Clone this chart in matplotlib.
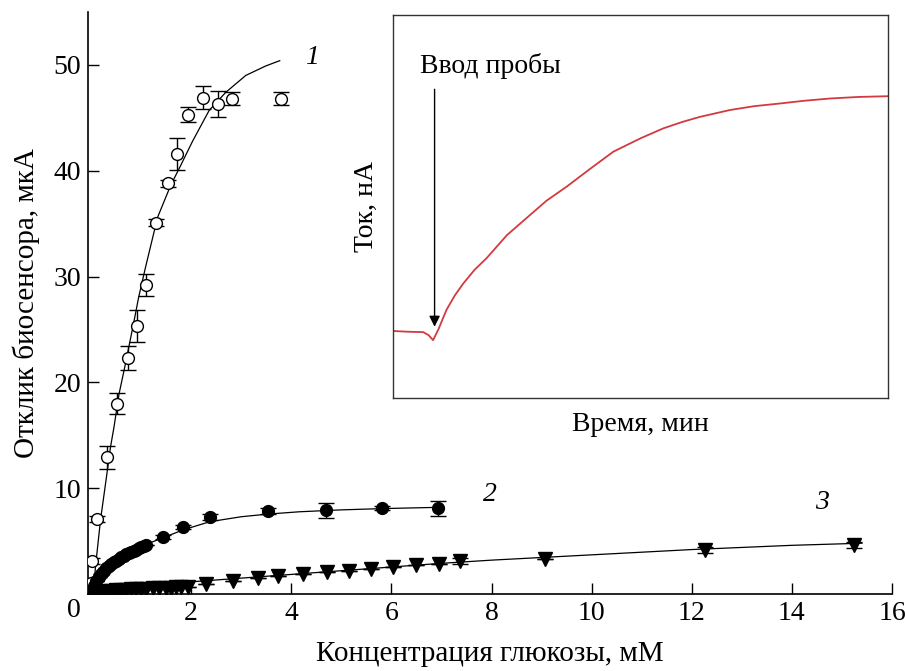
import numpy as np
import matplotlib
matplotlib.use('Agg')
import matplotlib.pyplot as plt

plt.rcParams['font.family'] = ['Liberation Serif', 'DejaVu Serif']

# Curve 1 (open circles) - measured points with error bars
c1_x = [0.0, 0.02, 0.11, 0.31, 0.51, 0.73, 0.91, 1.09, 1.29, 1.53, 1.71, 1.93, 2.23, 2.53, 2.81, 3.79]
c1_y = [1.0, 3.1, 7.1, 12.9, 18.0, 22.3, 25.3, 29.2, 35.1, 38.8, 41.6, 45.3, 46.9, 46.3, 46.8, 46.8]
c1_err = [0.3, 0.3, 0.3, 1.05, 1.0, 1.1, 1.5, 1.0, 0.3, 0.3, 1.5, 0.7, 1.1, 1.2, 0.6, 0.6]
# fitted curve 1
fit1_x = [0.05, 0.09, 0.19, 0.31, 0.39, 0.46, 0.56, 0.69, 0.86, 0.95, 1.09, 1.33, 1.59, 1.76,
          2.03, 2.36, 2.69, 3.09, 3.49, 3.77]
fit1_y = [0.5, 2.6, 7.0, 11.1, 13.9, 15.8, 18.9, 21.8, 25.8, 28.0, 30.9, 35.6, 38.6, 40.2,
          42.8, 45.7, 47.4, 49.0, 49.9, 50.4]

# Curve 2 (filled circles)
c2_x = [0.05, 0.1, 0.15, 0.2, 0.25, 0.3, 0.35, 0.4, 0.45, 0.5, 0.55, 0.6, 0.65, 0.7, 0.75,
        0.8, 0.85, 0.9, 0.95, 1.0, 1.05, 1.1, 1.43, 1.83, 2.37, 3.53, 4.69, 5.81, 6.93]
c2_y = [0.8, 1.2, 1.6, 1.9, 2.2, 2.45, 2.6, 2.85, 3.0, 3.15, 3.3, 3.45, 3.6, 3.75, 3.85,
        3.95, 4.05, 4.2, 4.3, 4.45, 4.55, 4.65, 5.4, 6.35, 7.3, 7.87, 7.9, 8.1, 8.1]
c2_err = [0] * 22 + [0.2, 0.2, 0.3, 0.3, 0.7, 0.2, 0.7]
fit2_x = [0.02, 0.1, 0.2, 0.35, 0.5, 0.7, 1.0, 1.43, 1.83, 2.37, 3.0, 3.53, 4.16, 5.0, 5.81, 6.56, 7.05]
fit2_y = [0.8, 1.3, 1.8, 2.6, 3.1, 3.75, 4.5, 5.3, 6.04, 6.83, 7.3, 7.55, 7.77, 7.95, 8.07, 8.15, 8.2]

# Curve 3 (filled triangles)
c3_x = [0.02, 0.05, 0.1, 0.15, 0.2, 0.3, 0.4, 0.5, 0.6, 0.7, 0.8, 0.9, 1.0, 1.1, 1.23, 1.35,
        1.49, 1.6, 1.69, 1.8, 1.93, 2.29, 2.83, 3.33, 3.73, 4.23, 4.71, 5.16, 5.59, 6.04,
        6.49, 6.95, 7.37, 9.06, 12.26, 15.24]
c3_y = [0.0, 0.05, 0.1, 0.15, 0.2, 0.25, 0.3, 0.35, 0.4, 0.4, 0.45, 0.45, 0.5, 0.5, 0.55, 0.55,
        0.6, 0.6, 0.65, 0.65, 0.7, 0.9, 1.2, 1.5, 1.7, 1.85, 2.05, 2.2, 2.35, 2.55,
        2.75, 2.85, 3.1, 3.35, 4.15, 4.65]
c3_err = [0] * 32 + [0.3, 0, 0.3, 0.3]
fit3_x = [0.02, 0.1, 0.2, 0.4, 0.7, 1.0, 1.5, 2.0, 3, 4, 5, 6, 7, 8, 9, 10, 11, 12, 13, 14, 15.4]
fit3_y = [0.0, 0.35, 0.55, 0.7, 0.8, 0.9, 1.0, 1.15, 1.5, 1.85, 2.2, 2.55, 2.9, 3.2, 3.45,
          3.7, 3.95, 4.2, 4.4, 4.6, 4.8]

# Inset: current trace vs time (arbitrary units)
trace_t = [0.0, 0.3, 0.61, 0.72, 0.81, 0.92, 1.08, 1.25, 1.42, 1.65, 1.89, 2.3, 2.77, 3.1,
           3.51, 4.0, 4.45, 5.0, 5.46, 5.85, 6.2, 6.81, 7.3, 7.82, 8.3, 8.83, 9.4, 10.0]
trace_i = [17.5, 17.3, 17.2, 16.4, 15.1, 18.0, 23.0, 26.8, 29.9, 33.5, 36.5, 42.5, 47.8, 51.5,
           55.2, 60.0, 64.3, 67.8, 70.4, 72.1, 73.4, 75.2, 76.2, 76.9, 77.6, 78.2, 78.6, 78.8]

fig = plt.figure(figsize=(9.05, 6.71), dpi=100)
ax = fig.add_axes([88 / 905, 1 - 594 / 671, 804 / 905, 582 / 671])

fs = 20
fl = 21
ax.plot(fit1_x, fit1_y, color='black', lw=0.9, zorder=2)
ax.plot(fit2_x, fit2_y, color='black', lw=0.9, zorder=2)
ax.plot(fit3_x, fit3_y, color='black', lw=0.9, zorder=2)

ax.errorbar(c1_x, c1_y, yerr=c1_err, fmt='o', ms=8.5, mfc='white', mec='black', mew=1.0,
            ecolor='black', elinewidth=1.0, capsize=6, capthick=1.0, zorder=3)
ax.errorbar(c2_x, c2_y, yerr=c2_err, fmt='o', ms=8.5, mfc='black', mec='black',
            ecolor='black', elinewidth=1.0, capsize=6, capthick=1.0, zorder=3)
ax.errorbar(c3_x, c3_y, yerr=c3_err, fmt='v', ms=9.5, mfc='black', mec='black',
            ecolor='black', elinewidth=1.0, capsize=6, capthick=1.0, zorder=3)

ax.text(4.42, 50.7, '1', fontsize=fs, style='italic', ha='center', va='center')
ax.text(7.96, 9.4, '2', fontsize=fs, style='italic', ha='center', va='center')
ax.text(14.6, 8.6, '3', fontsize=fs, style='italic', ha='center', va='center')

ax.set_xlim(-0.06, 16)
ax.set_ylim(0, 55)
ax.set_xticks(range(0, 17, 2))
ax.set_xticklabels([''] + [str(v) for v in range(2, 17, 2)])
ax.set_yticks([10, 20, 30, 40, 50])
ax.text(-0.34, -1.6, '0', fontsize=fs, ha='center', va='center')
ax.tick_params(direction='in', length=8, width=1.0, labelsize=fs, pad=5)
for s in ['top', 'right']:
    ax.spines[s].set_visible(False)
for s in ['left', 'bottom']:
    ax.spines[s].set_linewidth(1.2)
ax.set_xlabel('Концентрация глюкозы, мМ', fontsize=fl, labelpad=11)
ax.set_ylabel('Отклик биосенсора, мкА', fontsize=fl, labelpad=10)

# inset
ins = fig.add_axes([393 / 905, 1 - 398 / 671, 495 / 905, 383 / 671])
ins.plot(trace_t, trace_i, color='#d23a3f', lw=1.3)
ins.set_xlim(0, 10)
ins.set_ylim(0, 100)
ins.set_xticks([])
ins.set_yticks([])
for s in ins.spines.values():
    s.set_linewidth(1.0)
    s.set_color('#333333')
ins.set_xlabel('Время, мин', fontsize=fs, labelpad=10)
ins.set_ylabel('Ток, нА', fontsize=fs, labelpad=10)
ins.annotate('', xy=(0.84, 18.6), xytext=(0.84, 80.6),
             arrowprops=dict(arrowstyle='-|>', color='black', lw=1.0,
                             mutation_scale=16, shrinkA=0, shrinkB=0))
ins.text(0.55, 86.6, 'Ввод пробы', fontsize=fs, ha='left', va='center')

fig.savefig('out.png', dpi=100)
